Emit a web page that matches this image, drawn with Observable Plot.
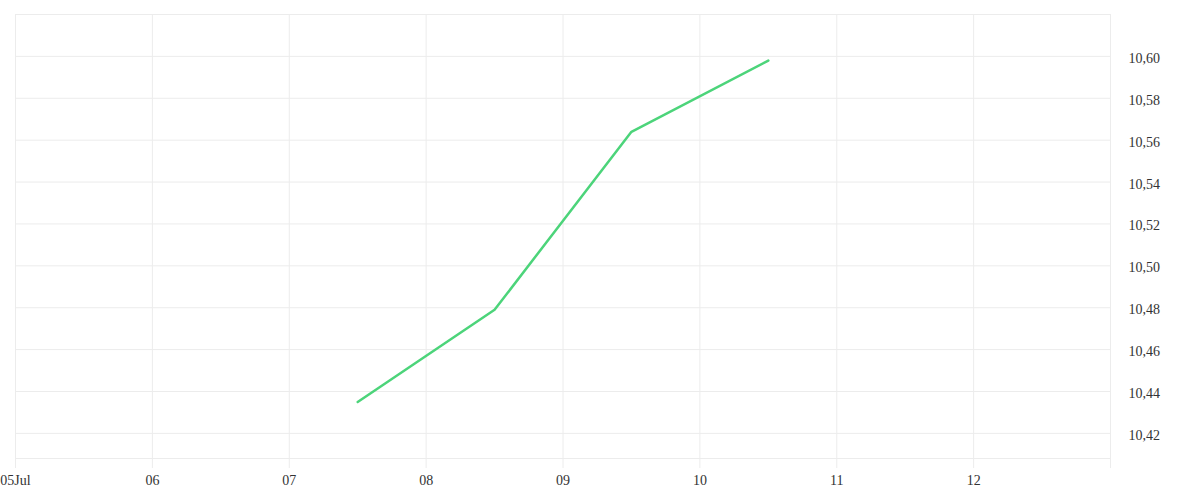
<!DOCTYPE html>
<html>
<head>
<meta charset="utf-8">
<script src="https://cdn.jsdelivr.net/npm/d3@7"></script>
<script src="https://cdn.jsdelivr.net/npm/@observablehq/plot@0.6"></script>
<style>
  html, body { margin: 0; padding: 0; background: #fff; }
  #chart svg { display: block; }
</style>
</head>
<body>
<div id="chart"></div>
<script>
// Data
const dates = ["2024-07-07T12:00:00Z", "2024-07-08T12:00:00Z", "2024-07-09T12:00:00Z", "2024-07-10T12:00:00Z"];
const values = [10.435, 10.479, 10.564, 10.598];
const xTicks = ["2024-07-05", "2024-07-06", "2024-07-07", "2024-07-08", "2024-07-09", "2024-07-10", "2024-07-11", "2024-07-12"];
const xTickLabels = ["05Jul", "06", "07", "08", "09", "10", "11", "12"];
const yTicks = [10.42, 10.44, 10.46, 10.48, 10.50, 10.52, 10.54, 10.56, 10.58, 10.60];
const yGrid = [10.42, 10.44, 10.46, 10.48, 10.50, 10.52, 10.54, 10.56, 10.58, 10.60, 10.62];
const xDomain = ["2024-07-05", "2024-07-13"];
const yDomain = [10.408, 10.62];

const data = dates.map((d, i) => ({date: new Date(d), value: values[i]}));
const xTickDates = xTicks.map(d => new Date(d + "T00:00:00Z"));
const labelFor = new Map(xTickDates.map((d, i) => [+d, xTickLabels[i]]));

const grid = "#ececec";

const chart = Plot.plot({
  width: 1200,
  height: 500,
  marginTop: 14,
  marginBottom: 42,
  marginLeft: 15,
  marginRight: 90,
  style: {fontFamily: "'Liberation Serif', serif", fontSize: "14px", color: "#333", background: "#fff"},
  x: {type: "utc", domain: xDomain.map(d => new Date(d + "T00:00:00Z"))},
  y: {domain: yDomain},
  marks: [
    Plot.ruleY(yGrid, {stroke: grid, strokeWidth: 1}),
    Plot.ruleY([yDomain[0]], {stroke: grid, strokeWidth: 1}),
    Plot.ruleX(xTickDates, {stroke: grid, strokeWidth: 1, insetBottom: -10}),
    Plot.ruleX([new Date(xDomain[1] + "T00:00:00Z")], {stroke: grid, strokeWidth: 1, insetBottom: -10}),
    Plot.axisX(xTickDates, {tickSize: 0, tickPadding: 17, tickFormat: d => labelFor.get(+d), fill: "#333", label: null}),
    Plot.axisY(yTicks, {anchor: "right", tickSize: 0, tickPadding: 18, dy: 2, textAnchor: "start", tickFormat: d => d.toFixed(2).replace(".", ","), fill: "#333", label: null}),
    Plot.line(data, {x: "date", y: "value", stroke: "#4cd47a", strokeWidth: 2.5})
  ]
});
document.getElementById("chart").append(chart);
</script>
</body>
</html>
